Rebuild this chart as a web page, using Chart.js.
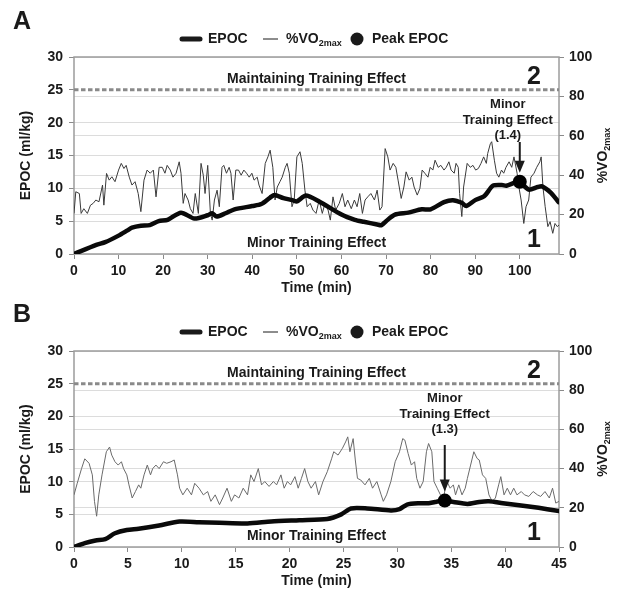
<!DOCTYPE html>
<html>
<head>
<meta charset="utf-8">
<script src="https://cdn.jsdelivr.net/npm/chart.js@4.4.1/dist/chart.umd.min.js"></script>
<style>
    body { margin: 0; background: #fff; }
    .panel { position: absolute; left: 0; width: 627px; height: 295px; }
    #panelA { top: 0; }
    #panelB { top: 294px; }
</style>
</head>
<body>
<div class="panel" id="panelA"><canvas id="chartA" width="627" height="295"></canvas></div>
<div class="panel" id="panelB"><canvas id="chartB" width="627" height="295"></canvas></div>
<script>
// ---- data ----
const epocTicks = [0, 5, 10, 15, 20, 25, 30];
const vo2Ticks = [0, 10, 20, 30, 40, 50, 60, 70, 80, 90, 100];
const xTicksA = [0, 10, 20, 30, 40, 50, 60, 70, 80, 90, 100];
const xTicksB = [0, 5, 10, 15, 20, 25, 30, 35, 40, 45];
const maintainLevel = 25;

// panel A
const epocTimeA = [0, 5, 7, 10, 12, 13, 15, 17, 19, 21, 24, 27, 30, 31, 32, 34, 36, 40, 42, 44,
    45, 47, 49, 50, 52, 55, 60, 63, 65, 68, 69, 70, 72, 75, 78, 80, 83, 85, 87, 88,
    90, 92, 94, 96, 97, 99, 100, 102, 104, 105, 107, 108.7];
const epocA = [0, 1.4, 1.8, 2.8, 3.6, 4.0, 4.3, 4.4, 5.0, 5.2, 6.3, 5.4, 5.9, 6.2, 5.7, 6.2, 6.8, 7.3, 7.6, 8.6,
    9.0, 8.5, 8.2, 8.0, 8.9, 8.0, 6.0, 5.2, 4.9, 4.5, 4.4, 5.0, 6.0, 6.3, 6.8, 6.8, 7.9, 8.2, 7.8, 7.3,
    8.2, 8.8, 10.4, 10.5, 10.4, 10.9, 11.0, 9.8, 10.2, 10.3, 9.3, 7.9];
const vo2TimeA = [0, 0.4, 1.2, 1.6, 2.2, 3, 3.7, 4.3, 4.9, 5.6, 6.4, 6.7, 7.3, 7.9, 8.5, 9.2, 10, 10.6, 11.2, 11.7,
    12.4, 13, 13.7, 14.4, 15, 15.7, 16.4, 17.1, 17.8, 18.4, 19.1, 19.8, 20.4, 20.9, 21.6, 22.2, 22.9, 23.6, 24, 24.5,
    24.9, 25.6, 26.1, 26.7, 27.2, 27.9, 28.5, 29, 29.4, 30, 30.6, 31, 31.5, 32.1, 32.6, 33.2, 33.6, 34.2, 34.8, 35.2,
    35.7, 36.3, 36.9, 37.5, 38.1, 38.7, 39.3, 39.9, 40.4, 41.1, 41.5, 42.2, 42.9, 43.5, 44, 44.6, 45.1, 45.6, 46.2, 46.7,
    47.4, 47.8, 48.3, 48.9, 49.4, 50, 50.7, 51.2, 51.8, 52.3, 53, 53.6, 54.3, 55, 55.7, 56.3, 57, 57.5, 58.1, 58.7,
    59.5, 60.2, 60.8, 61.4, 62.2, 62.9, 63.5, 64.1, 64.7, 65.3, 65.9, 66.6, 67.4, 68, 68.6, 69.1, 69.8, 70.4, 70.9, 71.6,
    72.2, 72.7, 73.4, 74, 74.5, 75.2, 75.8, 76.3, 77, 77.6, 78.1, 78.7, 79.4, 79.9, 80.5, 81, 81.7, 82.3, 83, 83.5,
    84.1, 84.6, 85.3, 85.7, 86.2, 86.5, 87, 87.4, 88.2, 88.9, 89.5, 90.1, 90.7, 91.3, 91.9, 92.5, 92.8, 93.4, 93.7, 94.3,
    94.8, 95.3, 95.9, 96.4, 96.9, 97.6, 98.2, 98.7, 99.4, 99.8, 100.3, 100.9, 101.4, 102, 102.5, 103.2, 103.8, 104.5, 104.8, 105.2,
    105.7, 106.3, 106.8, 107.4, 107.9, 108.4, 108.8];
const vo2A = [20.6, 31.6, 30.7, 20.6, 23, 20.6, 24.8, 25.7, 27.4, 26.5, 35, 24.8, 40.9, 37.5, 39.2, 36.7, 42.6, 46, 43.4, 45,
    39, 35, 36.7, 30.7, 21.5, 37.5, 42.6, 41, 42.6, 29, 44, 44, 41, 45, 42.6, 39, 41, 46.8, 41, 25.7,
    30.7, 27.4, 23, 20.6, 30.7, 20.6, 46, 40, 30.7, 45, 20.6, 17.2, 27.4, 32.4, 24, 44, 45, 41, 44, 41,
    27.4, 42.6, 42.6, 40, 42.6, 41, 39, 41, 37.5, 39, 35, 30.7, 46, 49.3, 52.7, 44, 27.4, 34, 36.7, 39,
    44, 46, 41, 24, 27.4, 49.3, 51.9, 46, 32.4, 24, 25.7, 22.3, 20.6, 27.4, 20.6, 25.7, 22.3, 17.2, 29, 22.3,
    25.7, 30.7, 24, 27.4, 23, 27.4, 24, 30.7, 20.6, 27.4, 29, 30.7, 27.4, 32.4, 22.3, 24, 53.5, 49.3, 42.6, 46,
    44, 37.5, 28.2, 34, 41.7, 37.5, 39, 34, 29.9, 33.3, 42.6, 41, 39, 44, 42.6, 47.6, 44, 45, 42.6, 44,
    46.8, 42.6, 41, 46, 44, 30.7, 19, 34, 46, 44, 45, 42.6, 43.4, 46, 49.3, 46, 51, 56, 57, 47.6,
    41, 39, 42.6, 41, 44, 46.8, 44, 49.3, 41, 34, 27.4, 15.5, 24, 27.4, 39, 41, 44, 46.8, 49.3, 34,
    24, 13.9, 16.4, 10.5, 15.5, 13.9, 14.7];
const peakA = { time: 100, epoc: 11.0, te: '(1.4)' };

// panel B
const epocTimeB = [0, 1, 2, 2.9, 3.8, 4.9, 6, 7.9, 9.8, 11.6, 13.5, 16.1, 18.3, 20.9, 23.5, 24.8, 25.7, 27.2, 29.4, 30.2,
    30.9, 32, 32.9, 33.5, 34.4, 35.2, 36.5, 37.6, 38.5, 39.8, 41.3, 43.1, 45];
const epocB = [0, 0.6, 1.0, 1.2, 2.1, 2.6, 2.8, 3.3, 3.9, 3.8, 3.7, 3.6, 3.9, 4.1, 4.3, 5.0, 5.9, 5.9, 5.6, 5.8,
    6.5, 6.7, 6.7, 6.9, 7.1, 6.9, 6.6, 6.9, 7.0, 6.7, 6.4, 6.0, 5.5];
const vo2TimeB = [0, 0.3, 0.7, 1.0, 1.4, 1.7, 1.9, 2.1, 2.3, 2.6, 3.0, 3.3, 3.5, 3.8, 4.1, 4.4, 4.6, 4.9, 5.1, 5.4,
    5.7, 6.0, 6.2, 6.5, 6.8, 7.1, 7.3, 7.6, 7.9, 8.3, 8.6, 9.0, 9.3, 9.6, 9.8, 10.1, 10.5, 10.9, 11.2, 11.6,
    12.0, 12.4, 12.7, 13.1, 13.5, 13.8, 14.2, 14.6, 14.9, 15.3, 15.7, 16.1, 16.4, 16.7, 17.1, 17.4, 17.7, 18.1, 18.5, 18.8,
    19.2, 19.5, 19.8, 20.1, 20.5, 20.8, 21.1, 21.4, 21.7, 22.0, 22.4, 22.7, 23.1, 23.5, 23.9, 24.1, 24.5, 24.9, 25.2, 25.4,
    25.6, 25.9, 26.1, 26.3, 26.6, 27.0, 27.4, 27.7, 28.1, 28.5, 28.7, 29.0, 29.4, 29.8, 30.2, 30.5, 30.7, 31.0, 31.3, 31.6,
    31.8, 32.1, 32.4, 32.7, 32.9, 33.2, 33.4, 33.7, 34.0, 34.3, 34.6, 34.9, 35.2, 35.4, 35.7, 36.0, 36.3, 36.5, 36.8, 37.1,
    37.4, 37.6, 37.9, 38.2, 38.5, 38.8, 39.1, 39.4, 39.6, 39.9, 40.2, 40.5, 40.8, 41.1, 41.5, 41.8, 42.2, 42.6, 43.0, 43.3,
    43.7, 44.1, 44.4, 44.7, 45];
const vo2B = [26.6, 32.5, 40, 45, 42.7, 36.8, 23.3, 15.7, 26.6, 36.8, 48.6, 51, 46.9, 43.5, 41.8, 43.5, 40, 36.8, 31.7, 25,
    28.3, 31.7, 30, 36.8, 41.8, 36.8, 40, 41.8, 40, 43.5, 42.7, 43.5, 44.4, 36.8, 30, 26.6, 30, 26.6, 32.5, 30,
    26.6, 28.3, 23.3, 26.6, 21.6, 25, 30, 23.3, 26.6, 25, 30, 26.6, 36.8, 33.4, 40, 31.7, 33.4, 30.9, 33.4, 31.7,
    36.8, 30, 33.4, 31.7, 35.9, 30, 35, 40, 33.4, 30, 33.4, 26.6, 33.4, 38.4, 45, 48.6, 46.9, 50.3, 53.6, 56.2,
    48.6, 55.3, 44.4, 35, 34.2, 31.7, 35, 30, 33.4, 26.6, 23.3, 26.6, 33.4, 43.5, 48.6, 55.3, 54.5, 47.7, 41.8, 43.5,
    35, 30, 33.4, 48.6, 52.8, 48.6, 33.4, 30, 26.6, 25.8, 33.4, 30, 31.7, 26.6, 31.7, 26.6, 30, 35, 41.8, 48.6,
    45.2, 44.4, 36.8, 35, 26.6, 23.3, 25, 31.7, 35.9, 26.6, 30, 26.6, 30, 26.6, 28.3, 26.6, 25.8, 28.3, 26.6, 25.8,
    28.3, 25, 30, 22.4, 23.3];
const peakB = { time: 34.4, epoc: 7.1, te: '(1.3)' };

const FONT = "'Liberation Sans', Arial, sans-serif";
const INK = '#1a1a1a';
const GRID = '#dcdcdc';

Chart.defaults.font.family = FONT;
Chart.defaults.font.size = 14;
Chart.defaults.font.weight = 'bold';
Chart.defaults.color = INK;

function toPoints(xs, ys) {
    return xs.map((x, i) => ({ x: x, y: ys[i] }));
}

function boldFont(size) {
    return 'bold ' + size + 'px ' + FONT;
}

function drawLegend(ctx, y) {
    ctx.save();
    ctx.fillStyle = INK;
    ctx.strokeStyle = INK;
    ctx.textBaseline = 'middle';
    ctx.textAlign = 'left';
    ctx.lineCap = 'round';
    ctx.lineWidth = 5;
    ctx.beginPath(); ctx.moveTo(182, y); ctx.lineTo(200, y); ctx.stroke();
    ctx.font = boldFont(14);
    ctx.fillText('EPOC', 208, y);
    ctx.lineWidth = 1;
    ctx.lineCap = 'butt';
    ctx.beginPath(); ctx.moveTo(263, y); ctx.lineTo(278, y); ctx.stroke();
    ctx.fillText('%VO', 286, y);
    const w = ctx.measureText('%VO').width;
    ctx.font = boldFont(9);
    ctx.fillText('2max', 286 + w, y + 5);
    ctx.beginPath(); ctx.arc(357, y, 6.5, 0, Math.PI * 2); ctx.fill();
    ctx.font = boldFont(14);
    ctx.fillText('Peak EPOC', 372, y);
    ctx.restore();
}

const decorPlugin = {
    id: 'decor',
    beforeDatasetsDraw(chart) {
        const { ctx, chartArea: a } = chart;
        ctx.save();
        ctx.strokeStyle = '#9c9c9c';
        ctx.lineWidth = 1.5;
        ctx.strokeRect(a.left, a.top, a.right - a.left, a.bottom - a.top);
        ctx.restore();
    },
    afterDraw(chart) {
        const o = chart.options.plugins.decor;
        const { ctx, chartArea: a } = chart;
        const xs = chart.scales.x, ys = chart.scales.y;
        const cx = (a.left + a.right) / 2;
        ctx.save();
        ctx.fillStyle = INK;
        ctx.strokeStyle = INK;

        // panel letter
        ctx.font = boldFont(25);
        ctx.textAlign = 'left';
        ctx.textBaseline = 'middle';
        ctx.fillText(o.letter, 13, o.letterY);

        drawLegend(ctx, o.legendY);

        // zone labels
        ctx.textAlign = 'center';
        ctx.font = boldFont(14);
        ctx.fillText('Maintaining Training Effect', cx, a.top + 22);
        ctx.fillText('Minor Training Effect', cx, a.bottom - 11);
        ctx.font = boldFont(25);
        ctx.fillText('2', 534, a.top + 20);
        ctx.fillText('1', 534, a.bottom - 14);

        // axis titles
        ctx.font = boldFont(14);
        ctx.fillText('Time (min)', cx, a.bottom + 34);
        ctx.save();
        ctx.translate(26, (a.top + a.bottom) / 2);
        ctx.rotate(-Math.PI / 2);
        ctx.fillText('EPOC (ml/kg)', 0, 0);
        ctx.restore();

        ctx.save();
        ctx.translate(603, (a.top + a.bottom) / 2);
        ctx.rotate(-Math.PI / 2);
        ctx.font = boldFont(14);
        const w1 = ctx.measureText('%VO').width;
        ctx.font = boldFont(9);
        const w2 = ctx.measureText('2max').width;
        ctx.textAlign = 'left';
        ctx.font = boldFont(14);
        ctx.fillText('%VO', -(w1 + w2) / 2, 0);
        ctx.font = boldFont(9);
        ctx.fillText('2max', -(w1 + w2) / 2 + w1, 5);
        ctx.restore();

        // peak annotation with arrow
        const px = xs.getPixelForValue(o.peakTime);
        const py = ys.getPixelForValue(o.peakEpoc);
        const tx = px + o.textShift;
        ctx.font = boldFont(13);
        ctx.textAlign = 'center';
        ctx.fillText('Minor', tx, 104);
        ctx.fillText('Training Effect', tx, 120);
        ctx.fillText(o.teLabel, tx, 135);
        const tipY = py - 9;
        ctx.lineWidth = 2;
        ctx.beginPath();
        ctx.moveTo(px, o.arrowTop);
        ctx.lineTo(px, tipY - 8);
        ctx.stroke();
        ctx.beginPath();
        ctx.moveTo(px - 5, tipY - 12);
        ctx.lineTo(px + 5, tipY - 12);
        ctx.lineTo(px, tipY);
        ctx.closePath();
        ctx.fill();
        ctx.restore();
    }
};

function makeChart(canvasId, p) {
    const ctx = document.getElementById(canvasId);
    return new Chart(ctx, {
        type: 'line',
        data: {
            datasets: [{
                type: 'scatter',
                data: [{ x: p.peak.time, y: p.peak.epoc }],
                yAxisID: 'y',
                pointRadius: 7,
                pointBackgroundColor: '#000',
                pointBorderWidth: 0
            }, {
                data: toPoints(p.epocTime, p.epoc),
                yAxisID: 'y',
                borderColor: '#0a0a0a',
                borderWidth: 4.5,
                pointRadius: 0,
                tension: 0.25,
                borderCapStyle: 'round'
            }, {
                data: toPoints(p.vo2Time, p.vo2),
                yAxisID: 'y2',
                borderColor: p.vo2Color,
                borderWidth: 1,
                pointRadius: 0,
                tension: 0
            }, {
                data: [{ x: 0, y: maintainLevel }, { x: p.xMax, y: maintainLevel }],
                yAxisID: 'y',
                borderColor: '#8a8a8a',
                borderWidth: 3,
                borderDash: [4.5, 2.5],
                pointRadius: 0
            }]
        },
        options: {
            responsive: false,
            animation: false,
            devicePixelRatio: 1,
            layout: { padding: { top: 57, left: 0, right: 0, bottom: 0 } },
            plugins: {
                legend: { display: false },
                tooltip: { enabled: false },
                decor: {
                    letter: p.letter,
                    letterY: p.letterY,
                    legendY: p.legendY,
                    peakTime: p.peak.time,
                    peakEpoc: p.peak.epoc,
                    teLabel: p.peak.te,
                    textShift: p.textShift,
                    arrowTop: p.arrowTop
                }
            },
            scales: {
                x: {
                    type: 'linear',
                    min: 0,
                    max: p.xMax,
                    afterBuildTicks: axis => { axis.ticks = p.xTicks.map(v => ({ value: v })); },
                    afterFit: axis => { axis.height = p.xAxisHeight; },
                    grid: { drawOnChartArea: false, tickLength: 5, tickColor: '#8a8a8a' },
                    border: { display: false },
                    ticks: { padding: 4, maxRotation: 0 }
                },
                y: {
                    position: 'left',
                    min: 0,
                    max: 30,
                    afterBuildTicks: axis => { axis.ticks = epocTicks.map(v => ({ value: v })); },
                    afterFit: axis => { axis.width = 74; },
                    grid: {
                        color: c => (c.tick && c.tick.value === maintainLevel ? 'rgba(0,0,0,0)' : GRID),
                        tickLength: 5,
                        tickColor: '#8a8a8a'
                    },
                    border: { display: false },
                    ticks: { padding: 6 }
                },
                y2: {
                    position: 'right',
                    min: 0,
                    max: 100,
                    afterBuildTicks: axis => { axis.ticks = vo2Ticks.map(v => ({ value: v })); },
                    afterFit: axis => { axis.width = 68; },
                    grid: { color: GRID, tickLength: 5, tickColor: '#8a8a8a' },
                    border: { display: false },
                    ticks: { padding: 5 }
                }
            }
        },
        plugins: [decorPlugin]
    });
}

makeChart('chartA', {
    letter: 'A', letterY: 22, legendY: 39,
    xMax: 108.8, xTicks: xTicksA, xAxisHeight: 41,
    epocTime: epocTimeA, epoc: epocA, vo2Time: vo2TimeA, vo2: vo2A,
    vo2Color: '#3a3a3a', peak: peakA, textShift: -12, arrowTop: 142
});

makeChart('chartB', {
    letter: 'B', letterY: 21, legendY: 38,
    xMax: 45, xTicks: xTicksB, xAxisHeight: 42,
    epocTime: epocTimeB, epoc: epocB, vo2Time: vo2TimeB, vo2: vo2B,
    vo2Color: '#6a6a6a', peak: peakB, textShift: 0, arrowTop: 151
});
</script>
</body>
</html>
